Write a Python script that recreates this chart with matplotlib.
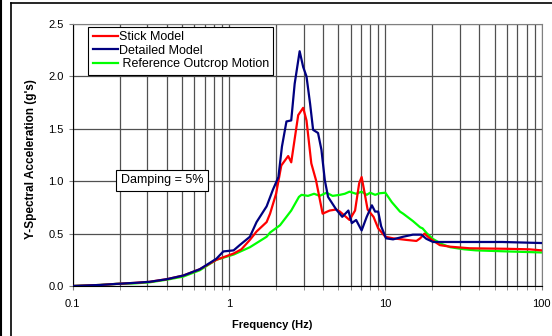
import matplotlib
matplotlib.use("Agg")
import matplotlib.pyplot as plt
from matplotlib.lines import Line2D

plt.rcParams['font.family'] = ['Liberation Sans', 'DejaVu Sans']

# Reference Outcrop Motion (green)
ref_f = [0.1, 0.15, 0.19, 0.25, 0.31, 0.4, 0.51, 0.65, 0.83, 1.07, 1.36, 1.74, 1.83, 2.12,
         2.5, 2.8, 2.91, 3.2, 3.5, 3.8, 4.2, 4.6, 5.12, 5.5, 5.9, 6.5, 7.05, 7.6, 8.0, 8.6, 9.2,
         10.0, 11.0, 12.4, 13.0, 15.0, 16.7, 17.3, 18.5, 20.1, 23.0, 26.0, 32.0, 38.0, 60.0, 100.0]
ref_y = [0.0, 0.01, 0.02, 0.025, 0.035, 0.06, 0.09, 0.15, 0.25, 0.30, 0.37, 0.47, 0.51, 0.58,
         0.72, 0.85, 0.87, 0.86, 0.88, 0.86, 0.89, 0.86, 0.87, 0.88, 0.90, 0.88, 0.90, 0.87, 0.89, 0.87, 0.885,
         0.89, 0.80, 0.71, 0.69, 0.62, 0.56, 0.55, 0.50, 0.45, 0.40, 0.37, 0.35, 0.34, 0.33, 0.32]

# Stick Model (red)
stick_f = [0.1, 0.15, 0.19, 0.25, 0.31, 0.4, 0.51, 0.65, 0.83, 1.07, 1.2, 1.36, 1.5, 1.74,
           1.83, 2.0, 2.16, 2.39, 2.5, 2.77, 2.98, 3.13, 3.36, 3.6, 3.97, 4.4, 4.85, 5.12,
           5.9, 6.4, 6.8, 7.05, 7.3, 7.7, 8.4, 9.0, 10.0, 11.2, 13.6, 15.8, 16.7, 17.8, 19.2,
           22.3, 26.0, 34.6, 60.0, 83.0, 100.0]
stick_y = [0.0, 0.01, 0.02, 0.03, 0.04, 0.065, 0.10, 0.16, 0.25, 0.31, 0.35, 0.44, 0.52, 0.61,
           0.69, 0.88, 1.15, 1.24, 1.18, 1.63, 1.70, 1.58, 1.17, 1.01, 0.69, 0.72, 0.73, 0.71,
           0.63, 0.72, 0.98, 1.04, 0.92, 0.73, 0.66, 0.55, 0.47, 0.455, 0.44, 0.43, 0.455, 0.50, 0.455,
           0.39, 0.375, 0.36, 0.355, 0.35, 0.34]

# Detailed Model (blue)
det_f = [0.1, 0.15, 0.19, 0.25, 0.31, 0.4, 0.51, 0.65, 0.83, 0.92, 1.07, 1.17, 1.36, 1.5,
         1.74, 1.91, 2.07, 2.18, 2.33, 2.5, 2.63, 2.83, 2.98, 3.13, 3.3, 3.45, 3.71, 3.9, 4.1,
         4.3, 4.85, 5.3, 5.8, 6.1, 6.5, 7.05, 7.6, 8.2, 8.6, 9.0, 9.4, 10.1, 11.2, 13.0, 15.0,
         17.0, 18.3, 20.2, 56.0, 100.0]
det_y = [0.0, 0.01, 0.02, 0.03, 0.04, 0.065, 0.10, 0.16, 0.26, 0.33, 0.34, 0.39, 0.47, 0.61,
         0.76, 0.92, 1.04, 1.33, 1.57, 1.58, 1.93, 2.24, 2.09, 2.00, 1.74, 1.49, 1.46, 1.30, 1.01,
         0.85, 0.73, 0.66, 0.72, 0.60, 0.63, 0.53, 0.66, 0.77, 0.71, 0.71, 0.57, 0.455, 0.445, 0.47, 0.49,
         0.49, 0.45, 0.42, 0.42, 0.41]

fig = plt.figure(figsize=(5.52, 3.36), dpi=100)
ax = fig.add_axes([0.1317, 0.1488, 0.9813 - 0.1317, 0.9286 - 0.1488])

ax.plot(stick_f, stick_y, color='#ff0000', lw=1.6, label='Stick Model', zorder=3)
ax.plot(det_f, det_y, color='#000080', lw=1.6, label='Detailed Model', zorder=4)
ax.plot(ref_f, ref_y, color='#00ff00', lw=1.6, label=' Reference Outcrop Motion', zorder=2)

ax.set_xscale('log')
ax.set_xlim(0.1, 100)
ax.set_ylim(0, 2.5)
ax.set_yticks([0.0, 0.5, 1.0, 1.5, 2.0, 2.5])
ax.set_yticklabels(['0.0', '0.5', '1.0', '1.5', '2.0', '2.5'])
ax.set_xticks([0.1, 1, 10, 100])
ax.set_xticklabels(['0.1', '1', '10', '100'])
ax.tick_params(axis='both', labelsize=8, length=3, color='#808080')
ax.tick_params(axis='x', which='minor', length=3, color='#808080')
ax.tick_params(axis='x', pad=6)
ax.grid(True, which='both', axis='x', color='#505050', lw=0.9)
ax.grid(True, which='major', axis='y', color='#505050', lw=0.9)
for side in ['top', 'right']:
    ax.spines[side].set_color('#808080')
for side in ['left', 'bottom']:
    ax.spines[side].set_color('#000000')

ax.set_ylabel("Y-Spectral Acceleration (g's)", fontsize=8.5, fontweight='bold')
ax.yaxis.set_label_coords(-0.076, 0.485)
ax.set_xlabel("Frequency (Hz)", fontsize=8, fontweight='bold')
ax.xaxis.set_label_coords(0.425, -0.13)

leg = ax.legend(loc='upper left', bbox_to_anchor=(0.033, 0.989), fontsize=9,
                frameon=True, fancybox=False, edgecolor='#000000', framealpha=1,
                handlelength=2.0, handletextpad=0.1, borderpad=0.35, labelspacing=0.12,
                borderaxespad=0.0)
leg.get_frame().set_linewidth(0.8)

ax.text(0.372, 1.01, 'Damping = 5%', fontsize=9, ha='center', va='center',
        bbox=dict(boxstyle='square,pad=0.35', fc='white', ec='#000000', lw=0.8), zorder=6)

# outer chart frame
fig.add_artist(Line2D([11/552, 11/552], [0, 1 - 3/336], color='black', lw=1.2, transform=fig.transFigure))
fig.add_artist(Line2D([11/552, 1], [1 - 3/336, 1 - 3/336], color='black', lw=1.2, transform=fig.transFigure))
fig.add_artist(Line2D([1/552, 1/552], [0, 1], color='black', lw=1.5, transform=fig.transFigure))

fig.savefig('out.png', dpi=100)
